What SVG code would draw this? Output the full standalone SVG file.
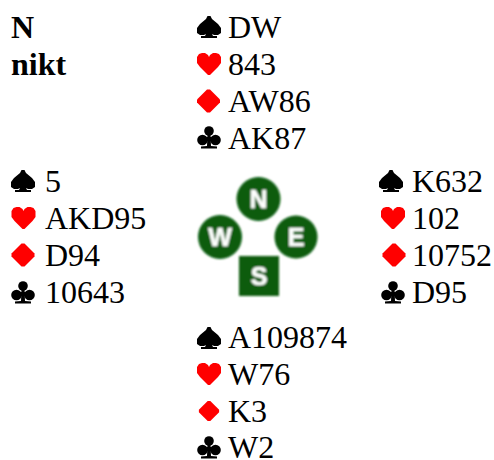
<svg xmlns="http://www.w3.org/2000/svg" width="494" height="460" viewBox="0 0 494 460">
<style>
text{font-family:"Liberation Serif","Times New Roman",serif;font-size:32px;fill:#000}
.b{font-weight:bold}
text.l{font-family:"Liberation Sans",Arial,sans-serif;font-weight:bold;font-size:25px;fill:#fff;stroke:#fff;stroke-width:.6;text-anchor:middle}
.g{fill:#075c0e}
</style>
<defs>
<filter id="soft" x="-10%" y="-10%" width="120%" height="120%"><feGaussianBlur stdDeviation="0.8"/></filter>
<path id="sp" d="M-1.500-11H1.500L3-8L9-3L12 1V6L9 8L5 8L3 7L4 9H8V11H-8V9H-4L-3 7L-5 8L-9 8L-12 6V1L-9-3L-3-8Z" fill="#000"/>
<path id="he" d="M-1 11H1L5 7L9 3L12-1V-7L10-10L7-11H4L1-9L0-7L-1-9L-4-11H-7L-10-10L-12-7V-1L-9 3L-5 7Z" fill="#f00"/>
<path id="di" d="M-1.500-11.500H1.500L11.500-1.500V1.500L1.500 11.500H-1.500L-11.500 1.500V-1.500Z" fill="#f00"/>
<g id="cl" fill="#000"><circle cx="0" cy="-7" r="4.800"/><circle cx="-6.500" cy="2" r="5.300"/><circle cx="6.500" cy="2" r="5.300"/><path d="M-1.500-4H1.500L2 8L8 8.500V10.500H-8V8.500L-2 8ZM-4 -1H4V3H-4Z"/></g>
</defs>
<g id="contract"><text class="b" x="11" y="38">N</text><text class="b" x="11" y="75">nikt</text></g>
<g id="north">
<use href="#sp" x="209" y="27"/><text x="228" y="38">DW</text>
<use href="#he" x="209" y="64"/><text x="228" y="75">843</text>
<use href="#di" x="208.500" y="101"/><text x="228" y="112">AW86</text>
<use href="#cl" x="209" y="138"/><text x="228" y="149">AK87</text>
</g>
<g id="west">
<use href="#sp" x="23" y="181"/><text x="45" y="192">5</text>
<use href="#he" x="23.500" y="218"/><text x="45" y="229">AKD95</text>
<use href="#di" x="23" y="255"/><text x="45" y="266">D94</text>
<use href="#cl" x="23" y="293"/><text x="45" y="303">10643</text>
</g>
<g id="east">
<use href="#sp" x="391" y="181"/><text x="412" y="192">K632</text>
<use href="#he" x="393" y="218"/><text x="412" y="229">102</text>
<use href="#di" x="394" y="255"/><text x="412" y="266">10752</text>
<use href="#cl" x="393" y="293"/><text x="412" y="303">D95</text>
</g>
<g id="south">
<use href="#sp" x="209" y="338"/><text x="228" y="348">A109874</text>
<use href="#he" x="209" y="374"/><text x="228" y="385">W76</text>
<use href="#di" transform="translate(209,411) scale(.88)"/><text x="228" y="422">K3</text>
<use href="#cl" x="209" y="448"/><text x="228" y="458">W2</text>
</g>
<g id="compass" filter="url(#soft)">
<g id="n"><circle class="g" cx="258.500" cy="199" r="22"/><text class="l" x="258.500" y="208">N</text></g>
<g id="w"><circle class="g" cx="220" cy="237" r="22"/><text class="l" x="220" y="245.500">W</text></g>
<g id="e"><circle class="g" cx="296" cy="237" r="21.500"/><text class="l" x="296" y="246">E</text></g>
<g id="s"><rect class="g" x="239" y="256" width="40" height="40"/><text class="l" x="259" y="285">S</text></g>
</g>
</svg>
